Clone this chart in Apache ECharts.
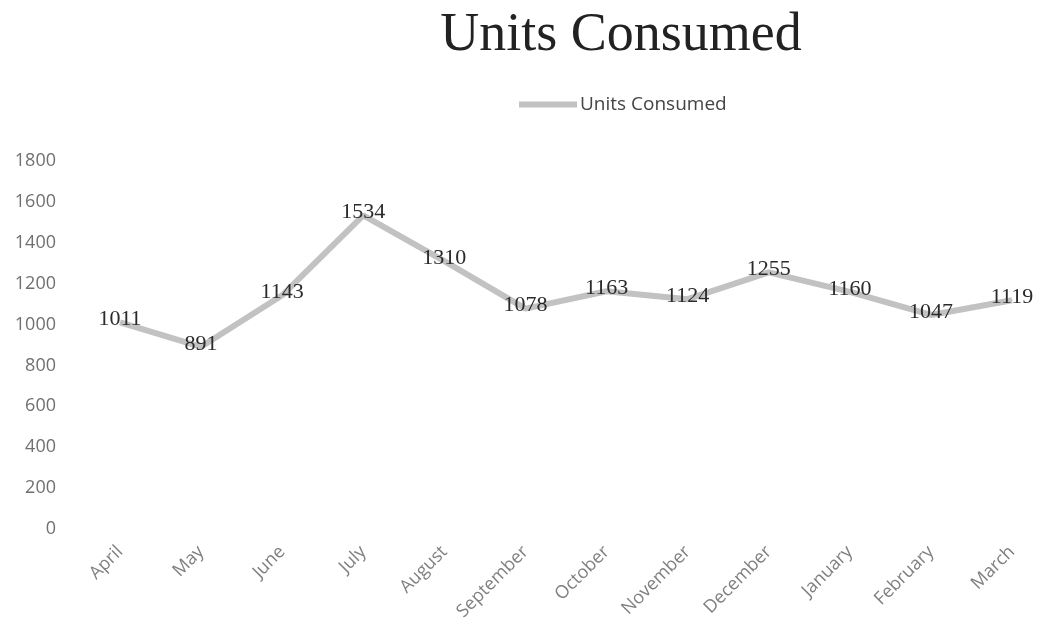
<!DOCTYPE html>
<html>
<head>
<meta charset="utf-8">
<script src="https://cdn.jsdelivr.net/npm/echarts@6/dist/echarts.min.js"></script>
<style>
  html, body { margin: 0; padding: 0; background: #ffffff; }
  #chart { width: 1040px; height: 628px; }
</style>
</head>
<body>
<div id="chart"></div>
<script>
// Monthly consumption, April through March
const months = ['April', 'May', 'June', 'July', 'August', 'September', 'October', 'November', 'December', 'January', 'February', 'March'];
const unitsConsumed = [1011, 891, 1143, 1534, 1310, 1078, 1163, 1124, 1255, 1160, 1047, 1119];
const seriesName = 'Units Consumed';
const chartTitle = 'Units Consumed';

const lineColor = '#c2c2c2';
const chart = echarts.init(document.getElementById('chart'), null, { renderer: 'canvas' });

chart.setOption({
  backgroundColor: '#ffffff',
  animation: false,
  title: {
    text: chartTitle,
    left: 616,
    textAlign: 'center',
    top: 4,
    textStyle: {
      fontFamily: '"Liberation Serif", "DejaVu Serif", serif',
      fontSize: 54,
      fontWeight: 'normal',
      color: '#222222'
    }
  },
  legend: {
    data: [{ name: seriesName, itemStyle: { color: lineColor } }],
    left: 514,
    top: 90,
    itemWidth: 58,
    itemHeight: 6,
    itemGap: 4,
    icon: 'rect',
    textStyle: {
      fontFamily: '"Open Sans", "Liberation Sans", sans-serif',
      fontSize: 19,
      color: '#444444',
      padding: [0, 0, 0, -2]
    }
  },
  grid: {
    left: 120,
    right: 28,
    top: 161,
    bottom: 99,
    containLabel: false
  },
  xAxis: {
    type: 'category',
    data: months,
    boundaryGap: false,
    axisLine: { show: false },
    axisTick: { show: false },
    axisLabel: {
      rotate: 45,
      margin: 20,
      fontFamily: '"Open Sans", "Liberation Sans", sans-serif',
      fontSize: 18,
      color: '#808080'
    }
  },
  yAxis: {
    type: 'value',
    min: 0,
    max: 1800,
    interval: 200,
    splitLine: { show: false },
    axisLine: { show: false },
    axisTick: { show: false },
    axisLabel: {
      margin: 64,
      formatter: (v) => String(v),
      fontFamily: '"Open Sans", "Liberation Sans", sans-serif',
      fontSize: 18,
      color: '#707070'
    }
  },
  series: [{
    name: seriesName,
    type: 'line',
    data: unitsConsumed,
    symbol: 'circle',
    symbolSize: 1,
    showSymbol: true,
    lineStyle: { width: 6, color: lineColor },
    itemStyle: { color: lineColor },
    label: {
      show: true,
      position: 'inside',
      offset: [0, -3],
      fontFamily: '"Liberation Serif", "DejaVu Serif", serif',
      fontSize: 22,
      color: '#2a2a2a'
    },
    z: 3
  }]
});
</script>
</body>
</html>
